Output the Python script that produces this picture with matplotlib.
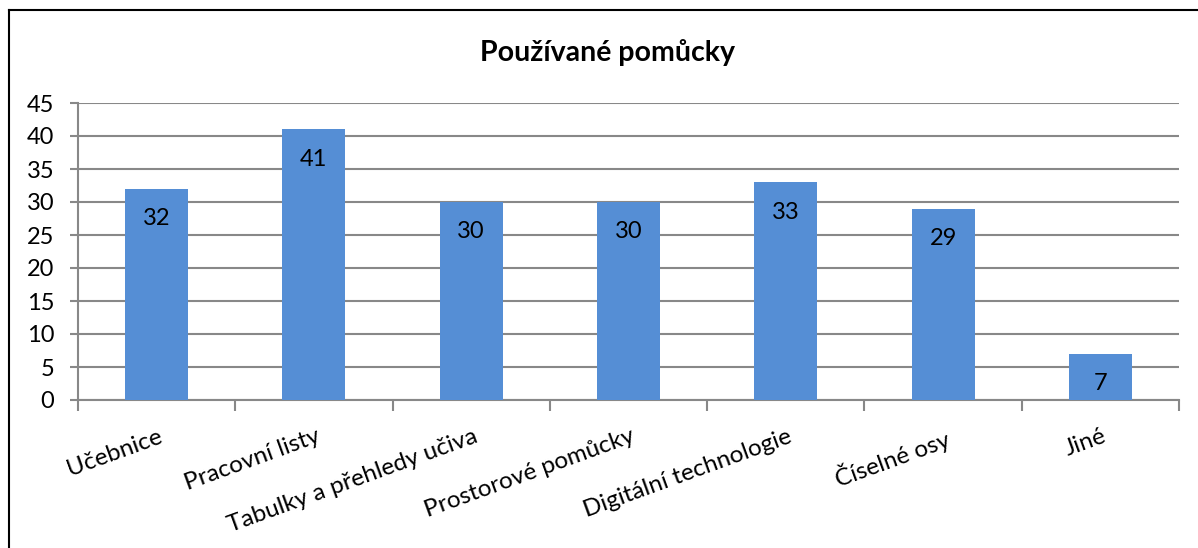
import matplotlib.pyplot as plt
from matplotlib.lines import Line2D

# data
kategorie = ["Učebnice", "Pracovní listy", "Tabulky a přehledy učiva", "Prostorové pomůcky",
             "Digitální technologie", "Číselné osy", "Jiné"]
pocty = [32, 41, 30, 30, 33, 29, 7]
y_ticks = [0, 5, 10, 15, 20, 25, 30, 35, 40, 45]

plt.rcParams['font.family'] = ['Lato', 'DejaVu Sans']
seda = '#888888'
modra = '#558ED5'

W, H = 1198, 548
fig = plt.figure(figsize=(W / 100, H / 100), dpi=100)
ax = fig.add_axes([78 / W, 1 - 400 / H, (1179 - 78) / W, (400 - 103) / H])

x = list(range(len(kategorie)))
ax.bar(x, pocty, width=0.4, color=modra, zorder=3)
for xi, v in zip(x, pocty):
    ax.annotate(str(v), (xi, v), xytext=(0, -14), textcoords='offset points',
                ha='center', va='top', fontsize=17, color='black', zorder=4)

ax.set_xlim(-0.5, len(kategorie) - 0.5)
ax.set_ylim(0, 45)
ax.set_yticks(y_ticks)
ax.tick_params(axis='y', labelsize=17, length=6, width=1.5, color=seda, pad=11)
ax.yaxis.grid(True, color=seda, lw=1.5, zorder=0)

# ticky mezi kategoriemi
ax.set_xticks([i - 0.5 for i in range(len(kategorie) + 1)])
ax.set_xticklabels([])
ax.tick_params(axis='x', length=8, width=1.5, color=seda)
for xi, lab in zip(x, kategorie):
    ax.text(xi + 0.01, -3.9, lab, rotation=20, ha='right', va='top', rotation_mode='anchor',
            fontsize=17.5)

for s in ['top', 'right']:
    ax.spines[s].set_visible(False)
for s in ['left', 'bottom']:
    ax.spines[s].set_color(seda)
    ax.spines[s].set_linewidth(1.5)

fig.text(607 / W, 1 - 52 / H, "Používané pomůcky", ha='center', va='center',
         fontsize=20.5, fontweight='bold')

# ramecek grafu
fig.add_artist(Line2D([9 / W, 9 / W], [0, 1 - 10 / H], color='black', lw=1.5))
fig.add_artist(Line2D([9 / W, 1], [1 - 10 / H, 1 - 10 / H], color='black', lw=1.5))

fig.savefig('out.png', dpi=100)
